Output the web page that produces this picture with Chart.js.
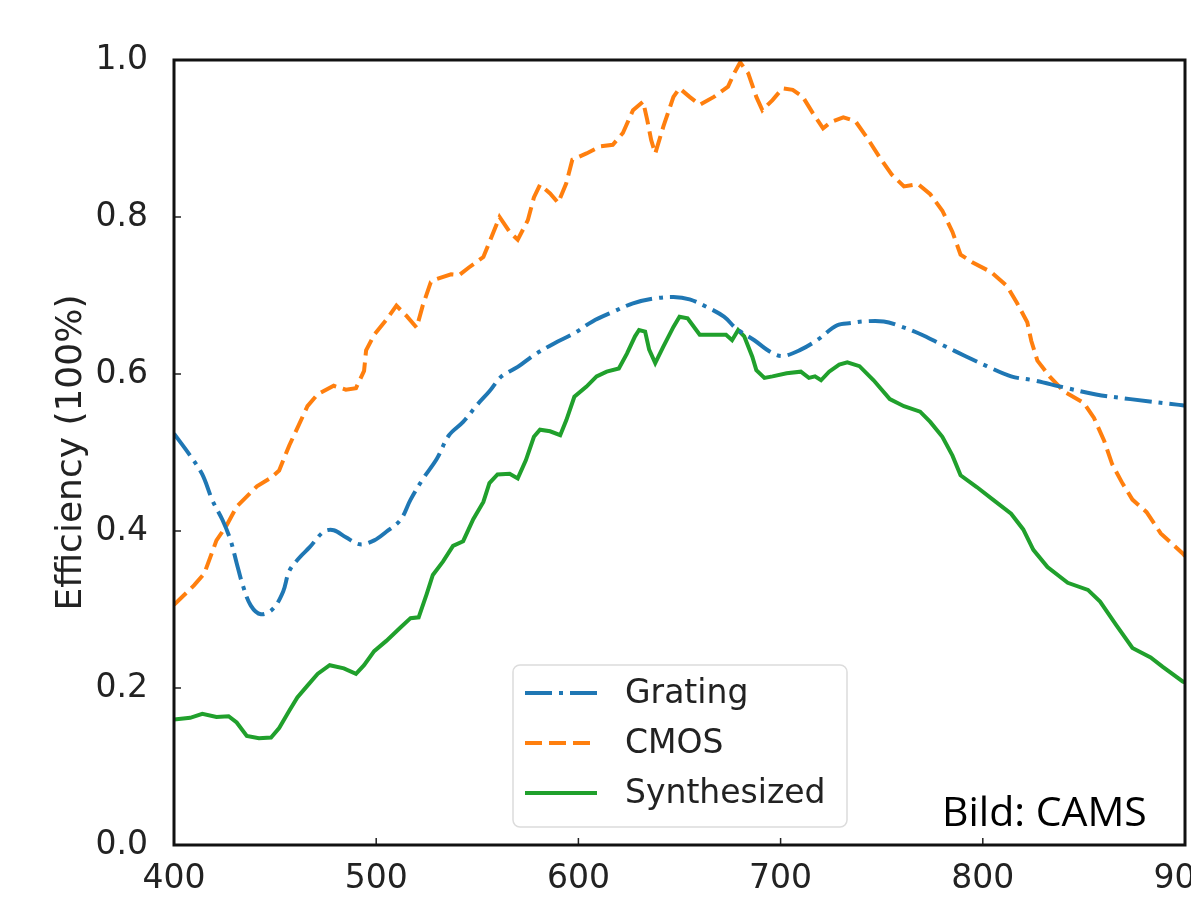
<!DOCTYPE html>
<html>
<head>
<meta charset="utf-8">
<title>Efficiency</title>
<script src="https://cdn.jsdelivr.net/npm/chart.js@4.4.0/dist/chart.umd.min.js"></script>
<style>
  html, body { margin: 0; padding: 0; background: #fff; overflow: hidden; }
  #wrap { width: 1260px; height: 897px; }
</style>
</head>
<body>
<div id="wrap"><canvas id="effChart" width="1260" height="897"></canvas></div>
<script>
// wavelength (nm) and efficiency for each curve
const gratingNm = [400,408,414,419,424,428,431,434,438,443,449,454,457,462,467,474,479,485,492,499,505,512,517,523,530,536,543,550,556,562,570,578,588,598,607,617,627,637,647,655,663,672,678,687,695,701,710,718,728,735,741,751,759,769,780,792,802,814,825,840,856,873,896,900];
const gratingEff = [0.524,0.496,0.472,0.439,0.414,0.388,0.359,0.331,0.305,0.294,0.301,0.323,0.349,0.366,0.379,0.399,0.401,0.392,0.383,0.388,0.399,0.414,0.44,0.466,0.492,0.522,0.539,0.561,0.578,0.597,0.609,0.624,0.639,0.652,0.667,0.679,0.69,0.696,0.698,0.695,0.686,0.673,0.658,0.643,0.628,0.623,0.631,0.643,0.662,0.665,0.667,0.667,0.661,0.651,0.637,0.622,0.61,0.597,0.592,0.583,0.574,0.568,0.561,0.56];

const cmosNm = [400,410,415,421,426,431,441,448,452,457,461,466,471,479,485,490,494,495,499,505,510,515,520,523,527,530,537,541,546,553,561,566,570,575,578,581,586,590,594,597,604,611,617,622,627,632,634,636,638,642,647,650,655,660,667,674,677,680,684,688,691,696,701,706,711,716,721,725,731,737,743,749,755,761,768,774,780,785,789,795,804,812,817,822,824,827,833,840,850,855,860,864,869,874,881,888,899,900];
const cmosEff = [0.306,0.331,0.346,0.388,0.407,0.431,0.457,0.468,0.477,0.509,0.531,0.559,0.574,0.585,0.58,0.582,0.604,0.63,0.65,0.669,0.687,0.674,0.659,0.687,0.717,0.721,0.727,0.726,0.736,0.749,0.80,0.781,0.771,0.796,0.825,0.841,0.83,0.818,0.843,0.873,0.881,0.89,0.892,0.907,0.936,0.947,0.924,0.898,0.881,0.915,0.953,0.964,0.953,0.943,0.953,0.966,0.983,0.997,0.983,0.953,0.936,0.949,0.964,0.962,0.953,0.932,0.913,0.921,0.927,0.922,0.90,0.876,0.854,0.839,0.842,0.829,0.808,0.781,0.752,0.742,0.73,0.712,0.69,0.666,0.642,0.617,0.597,0.578,0.563,0.544,0.515,0.485,0.461,0.44,0.424,0.397,0.371,0.368];

const synthNm = [400,408,414,421,427,431,436,442,448,452,457,461,466,471,477,484,490,494,499,505,512,517,521,525,528,533,538,543,548,553,556,560,566,570,574,578,581,586,591,594,598,604,609,614,620,624,628,630,633,635,638,642,647,650,654,660,667,673,676,679,682,686,688,692,696,703,710,714,717,720,724,729,733,739,746,754,761,769,774,780,785,789,797,805,814,820,825,832,842,852,858,866,874,883,889,899,900];
const synthEff = [0.16,0.162,0.167,0.163,0.164,0.156,0.139,0.136,0.137,0.149,0.171,0.188,0.203,0.218,0.229,0.225,0.218,0.229,0.247,0.26,0.277,0.289,0.29,0.32,0.344,0.361,0.381,0.387,0.415,0.437,0.461,0.472,0.473,0.467,0.49,0.52,0.529,0.527,0.522,0.541,0.571,0.584,0.597,0.603,0.607,0.626,0.648,0.656,0.654,0.631,0.614,0.635,0.66,0.673,0.671,0.65,0.65,0.65,0.643,0.656,0.648,0.622,0.605,0.595,0.597,0.601,0.603,0.595,0.597,0.592,0.603,0.612,0.615,0.61,0.592,0.568,0.559,0.552,0.539,0.52,0.496,0.471,0.456,0.44,0.422,0.402,0.376,0.354,0.334,0.325,0.31,0.28,0.251,0.239,0.227,0.208,0.207];

const xTicks = [400, 500, 600, 700, 800, 900];
const yTicks = [0.0, 0.2, 0.4, 0.6, 0.8, 1.0];
const seriesLabels = ["Grating", "CMOS", "Synthesized"];
const yTitle = "Efficiency (100%)";
const sourceNote = "Bild: CAMS";

const FONT = "'DejaVu Sans', sans-serif";
const INK = "#222";

function pairs(xs, ys) {
  return xs.map((x, i) => ({ x: x, y: ys[i] }));
}

// box around the plot area + matplotlib-style inward ticks
const framePlugin = {
  id: "frame",
  afterDatasetsDraw(chart) {
    const { ctx, chartArea: a, scales } = chart;
    ctx.save();
    ctx.strokeStyle = INK;
    ctx.lineWidth = 1.5;
    ctx.beginPath();
    scales.x.ticks.forEach((t) => {
      const px = scales.x.getPixelForValue(t.value);
      ctx.moveTo(px, a.bottom);
      ctx.lineTo(px, a.bottom - 7);
    });
    scales.y.ticks.forEach((t) => {
      const py = scales.y.getPixelForValue(t.value);
      ctx.moveTo(a.left, py);
      ctx.lineTo(a.left + 7, py);
    });
    ctx.stroke();
    ctx.strokeStyle = "#111";
    ctx.lineWidth = 3;
    ctx.strokeRect(a.left, a.top, a.right - a.left, a.bottom - a.top);
    ctx.restore();
  }
};

// legend box in the lower middle of the plot, plus the source note
const legendPlugin = {
  id: "insetLegend",
  afterDraw(chart) {
    const { ctx, chartArea: a } = chart;
    const bx = a.left + 339, by = a.top + 605, bw = 334, bh = 162;
    ctx.save();
    ctx.beginPath();
    ctx.roundRect(bx, by, bw, bh, 7);
    ctx.fillStyle = "rgba(255,255,255,0.85)";
    ctx.fill();
    ctx.strokeStyle = "#dcdcdc";
    ctx.lineWidth = 1.5;
    ctx.stroke();

    ctx.font = "33px " + FONT;
    ctx.textBaseline = "middle";
    ctx.textAlign = "left";
    chart.data.datasets.forEach((ds, i) => {
      const ry = by + 28 + i * 50;
      ctx.beginPath();
      ctx.setLineDash(ds.borderDash || []);
      ctx.strokeStyle = ds.borderColor;
      ctx.lineWidth = ds.borderWidth;
      ctx.moveTo(bx + 12, ry);
      ctx.lineTo(bx + 84, ry);
      ctx.stroke();
      ctx.setLineDash([]);
      ctx.fillStyle = INK;
      ctx.fillText(ds.label, bx + 112, ry + 1);
    });

    ctx.font = "41px 'Open Sans', sans-serif";
    ctx.textBaseline = "alphabetic";
    ctx.fillStyle = "#000";
    ctx.fillText(sourceNote, 942, 826);
    ctx.restore();
  }
};

new Chart(document.getElementById("effChart"), {
  type: "line",
  data: {
    datasets: [
      {
        label: seriesLabels[0],
        data: pairs(gratingNm, gratingEff),
        borderColor: "#1f77b4",
        borderWidth: 4,
        borderDash: [27, 7, 4, 7],
        tension: 0.35,
        pointRadius: 0
      },
      {
        label: seriesLabels[1],
        data: pairs(cmosNm, cmosEff),
        borderColor: "#ff7f0e",
        borderWidth: 4,
        borderDash: [17, 7],
        tension: 0,
        pointRadius: 0
      },
      {
        label: seriesLabels[2],
        data: pairs(synthNm, synthEff),
        borderColor: "#20a02c",
        borderWidth: 4,
        tension: 0,
        pointRadius: 0
      }
    ]
  },
  options: {
    responsive: false,
    animation: false,
    layout: { padding: { left: 0, top: 60, right: 75, bottom: 0 } },
    plugins: { legend: { display: false }, tooltip: { enabled: false } },
    scales: {
      x: {
        type: "linear",
        min: 400,
        max: 900,
        grid: { display: false, drawTicks: false },
        border: { display: false },
        afterBuildTicks: (s) => { s.ticks = xTicks.map((v) => ({ value: v })); },
        afterFit: (s) => { s.height = 52; },
        ticks: {
          padding: 15,
          color: INK,
          font: { family: FONT, size: 33 },
          callback: (v) => String(v)
        }
      },
      y: {
        min: 0,
        max: 1,
        grid: { display: false, drawTicks: false },
        border: { display: false },
        afterBuildTicks: (s) => { s.ticks = yTicks.map((v) => ({ value: v })); },
        afterFit: (s) => { s.width = 174; },
        title: {
          display: true,
          text: yTitle,
          color: INK,
          font: { family: FONT, size: 36 },
          padding: { top: 50, bottom: 0 }
        },
        ticks: {
          padding: 26,
          color: INK,
          font: { family: FONT, size: 33 },
          callback: (v) => v.toFixed(1)
        }
      }
    }
  },
  plugins: [framePlugin, legendPlugin]
});
</script>
</body>
</html>
